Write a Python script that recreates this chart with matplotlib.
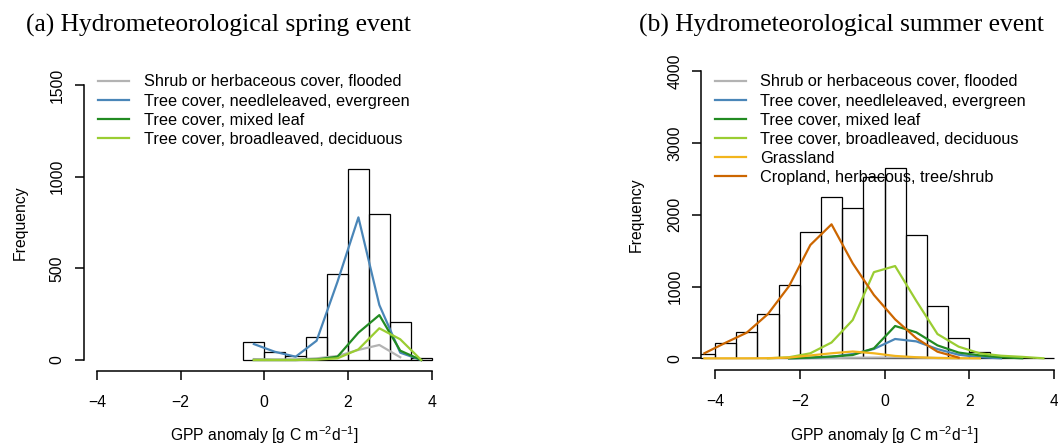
import numpy as np
import matplotlib
matplotlib.use("Agg")
import matplotlib.pyplot as plt

nan = np.nan

# ---------------- data ----------------
labels = ["Shrub or herbaceous cover, flooded",
          "Tree cover, needleleaved, evergreen",
          "Tree cover, mixed leaf",
          "Tree cover, broadleaved, deciduous",
          "Grassland",
          "Cropland, herbacous, tree/shrub"]
colors = ["#b3b3b3", "#4a86b8", "#228b22", "#9acd32", "#f2b51d", "#cc6600"]

# (a) spring event
mids_a = [-0.25, 0.25, 0.75, 1.25, 1.75, 2.25, 2.75, 3.25, 3.75]
counts_a = [98, 45, 22, 124, 469, 1042, 798, 209, 9]
shrub_a = [5, 3, 3, 9, 22, 55, 82, 15, nan]
needle_a = [87, 45, 18, 105, 427, 778, 300, 40, 0]
mixed_a = [0, 0, 0, 3, 18, 149, 245, 51, 0]
broad_a = [0, 0, 0, 2, 9, 58, 173, 113, 0]

# (b) summer event
mids_b = [-4.25, -3.75, -3.25, -2.75, -2.25, -1.75, -1.25, -0.75, -0.25,
          0.25, 0.75, 1.25, 1.75, 2.25, 2.75, 3.25, 3.75]
counts_b = [56, 213, 362, 621, 1021, 1755, 2246, 2098, 2529,
            2646, 1713, 733, 287, 92, 20, 8, 3]
shrub_b = [nan, nan, nan, nan, 0, 3, 5, 8, 10, 12, 10, 5, 2, nan, nan, nan, nan]
needle_b = [nan, nan, nan, nan, 0, 5, 20, 60, 130, 269, 236, 128, 50, 15, 0, nan, nan]
mixed_b = [nan, nan, nan, nan, 0, 10, 25, 46, 139, 450, 362, 180, 80, 40, 15, 0, nan]
broad_b = [nan, nan, nan, 0, 15, 70, 220, 533, 1200, 1285, 800, 338, 162, 69, 36, 20, 0]
grass_b = [0, 0, 0, 2, 10, 40, 70, 95, 70, 33, 15, 5, 2, 0, nan, nan, nan]
crop_b = [70, 217, 357, 617, 1007, 1578, 1866, 1323, 882, 543, 280, 92, 10, nan, nan, nan, nan]

xticks = [-4, -2, 0, 2, 4]
yticks_a = [0, 500, 1000, 1500]
yticks_b = [0, 1000, 2000, 3000, 4000]

# ---------------- style ----------------
W, H = 1058, 445
DPI = 100
plt.rcParams['font.family'] = ['Liberation Sans', 'DejaVu Sans']
plt.rcParams['mathtext.fontset'] = 'custom'
plt.rcParams['mathtext.rm'] = 'Liberation Sans'
plt.rcParams['mathtext.it'] = 'Liberation Sans:italic'
FS = 11.3
LFS = 11.7
px = 72.0 / DPI  # points per pixel

fig = plt.figure(figsize=(W / DPI, H / DPI), dpi=DPI)


def make_ax(left, right, top, bottom):
    return fig.add_axes([left / W, 1 - bottom / H, (right - left) / W, (bottom - top) / H])


def style_ax(ax, ylim, yticks, xlabel_base_px, ylabel_base_px, left_px, bottom_px, height_px, width_px):
    ax.set_xlim(-4.32, 4.32)
    ax.set_ylim(ylim)
    for s in ['top', 'right']:
        ax.spines[s].set_visible(False)
    ax.spines['left'].set_bounds(yticks[0], yticks[-1])
    ax.spines['bottom'].set_bounds(xticks[0], xticks[-1])
    for s in ['left', 'bottom']:
        ax.spines[s].set_linewidth(1.1)
    ax.set_xticks(xticks)
    ax.set_xticklabels(["\u22124", "\u22122", "0", "2", "4"])
    ax.set_yticks(yticks)
    ax.set_yticklabels([str(v) for v in yticks], rotation=90, va='center')
    ax.tick_params(axis='both', direction='out', length=9 * px, width=1.1, labelsize=FS)
    ax.tick_params(axis='x', pad=15 * px)
    ax.tick_params(axis='y', pad=10 * px)
    ax.set_xlabel(r"GPP anomaly [g C m$^{\mathregular{-2}}$d$^{\mathregular{-1}}$]", fontsize=FS, va='baseline')
    ax.xaxis.set_label_coords(0.5, -(xlabel_base_px - bottom_px) / height_px)
    ax.set_ylabel("Frequency", fontsize=FS, va='baseline')
    ax.yaxis.set_label_coords((ylabel_base_px - left_px) / width_px, 0.5)


def add_legend(ax, x_px, top_px):
    ax.legend(loc='upper left', bbox_to_anchor=(x_px / W, 1 - top_px / H), bbox_transform=fig.transFigure,
              frameon=False, fontsize=LFS, handlelength=1.9, handletextpad=0.9,
              labelspacing=0.25, borderpad=0, borderaxespad=0)


# ---------------- panel (a) ----------------
axA = make_ax(83.6, 445.0, 74.0, 371.0)
axA.bar(mids_a, counts_a, width=0.5, facecolor='none', edgecolor='black', linewidth=0.9)
for vals, c, lab in zip([shrub_a, needle_a, mixed_a, broad_a], colors[:4], labels[:4]):
    axA.plot(mids_a, vals, color=c, lw=1.6, label=lab)
style_ax(axA, (-60, 1560), yticks_a, 441, 25, 83.6, 371.0, 297.0, 361.4)
add_legend(axA, 98, 74.5)

# ---------------- panel (b) ----------------
axB = make_ax(701.4, 1067.6, 59.6, 369.8)
axB.bar(mids_b, counts_b, width=0.5, facecolor='none', edgecolor='black', linewidth=0.9)
for vals, c, lab in zip([shrub_b, needle_b, mixed_b, broad_b, grass_b, crop_b], colors, labels):
    axB.plot(mids_b, vals, color=c, lw=1.6, label=lab)
style_ax(axB, (-160, 4160), yticks_b, 441, 641, 701.4, 369.8, 310.2, 366.2)
add_legend(axB, 715, 74.5)

# ---------------- titles ----------------
fig.text(26 / W, 1 - 32 / H, "(a) Hydrometeorological spring event", family='Liberation Serif',
         fontsize=18.4, va='baseline', ha='left')
fig.text(639 / W, 1 - 32 / H, "(b) Hydrometeorological summer event", family='Liberation Serif',
         fontsize=18.4, va='baseline', ha='left')

fig.savefig("out.png", dpi=DPI)
